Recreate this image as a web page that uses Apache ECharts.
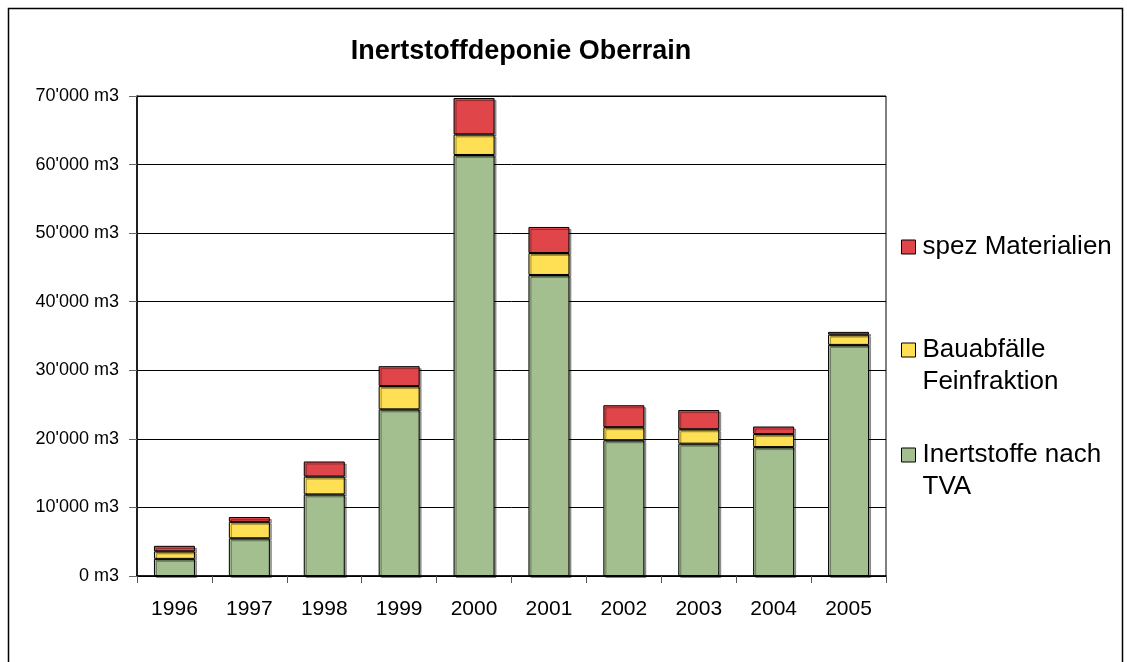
<!DOCTYPE html>
<html>
<head>
<meta charset="utf-8">
<script src="https://cdn.jsdelivr.net/npm/echarts@6/dist/echarts.min.js"></script>
<style>
  html, body { margin: 0; padding: 0; background: #fff; }
  #chart { width: 1127px; height: 662px; }
</style>
</head>
<body>
<div id="chart"></div>
<script>
const FONT = "'Liberation Sans', Arial, sans-serif";

const years = ["1996", "1997", "1998", "1999", "2000", "2001", "2002", "2003", "2004", "2005"];
const inertstoffe = [2500, 5500, 11900, 24300, 61400, 43900, 19800, 19300, 18800, 33700];
const bauabfaelle = [1100, 2400, 2600, 3400, 3000, 3200, 1900, 2100, 1900, 1500];
const spezMaterialien = [800, 700, 2200, 2900, 5300, 3800, 3200, 2800, 1100, 400];

const SERIES_NAMES = ["Inertstoffe nach TVA", "Bauabfälle Feinfraktion", "spez Materialien"];
// first line of a two-line entry sits beside the icon, so pad with a blank line above
const LEGEND_TEXT = {
  "spez Materialien": "spez Materialien",
  "Bauabfälle Feinfraktion": " \nBauabfälle\nFeinfraktion",
  "Inertstoffe nach TVA": " \nInertstoffe nach\nTVA",
};
const COLOR = {
  "Inertstoffe nach TVA": "#a3be8f",
  "Bauabfälle Feinfraktion": "#ffdf53",
  "spez Materialien": "#e0454a",
};

const chart = echarts.init(document.getElementById("chart"));

function yLabel(v) {
  if (v === 0) return "0 m3";
  return (v / 1000) + "'000 m3";
}

function legendFor(name, iconCenterY, twoLines) {
  const lh = 32;
  return {
    data: [name],
    left: 901,
    top: twoLines ? iconCenterY - lh * 1.5 : iconCenterY - lh / 2,
    padding: 0,
    selectedMode: false,
    itemWidth: 14,
    itemHeight: 14,
    icon: "rect",
    itemStyle: { borderColor: "#000", borderWidth: 1 },
    formatter: n => LEGEND_TEXT[n],
    textStyle: {
      fontFamily: FONT,
      fontSize: 26,
      color: "#000",
      lineHeight: lh,
      padding: [0, 0, 0, 2],
    },
  };
}

const data = [inertstoffe, bauabfaelle, spezMaterialien];

chart.setOption({
  animation: false,
  backgroundColor: "#fff",
  title: {
    text: "Inertstoffdeponie Oberrain",
    left: 516,
    textAlign: "center",
    top: 33,
    textStyle: { fontFamily: FONT, fontSize: 27, fontWeight: "bold", color: "#000" },
  },
  graphic: [{
    type: "rect",
    left: 6, top: 6,
    shape: { width: 1114, height: 700 },
    style: { fill: "none", stroke: "#000", lineWidth: 1.5 },
    silent: true,
  }],
  legend: [
    legendFor("spez Materialien", 247, false),
    legendFor("Bauabfälle Feinfraktion", 350, true),
    legendFor("Inertstoffe nach TVA", 455, true),
  ],
  grid: {
    left: 137, right: 241, top: 96, bottom: 86,
    show: true, borderColor: "#000", borderWidth: 1,
  },
  xAxis: {
    type: "category",
    data: years,
    axisLine: { lineStyle: { color: "#000", width: 1.5 } },
    axisTick: { show: true, length: 7, lineStyle: { color: "#555" } },
    axisLabel: { fontFamily: FONT, fontSize: 21, color: "#000", margin: 23 },
  },
  yAxis: {
    type: "value",
    min: 0, max: 70000, interval: 10000,
    axisLine: { show: true, lineStyle: { color: "#000", width: 1.5 } },
    axisTick: { show: true, length: 8, lineStyle: { color: "#666" } },
    axisLabel: { fontFamily: FONT, fontSize: 18, color: "#000", margin: 18, formatter: yLabel },
    splitLine: { lineStyle: { color: "#000", width: 1 } },
  },
  series: SERIES_NAMES.map((name, i) => ({
    name,
    type: "bar",
    stack: "total",
    barWidth: 41,
    data: data[i],
    itemStyle: {
      color: COLOR[name],
      borderColor: "#000",
      borderWidth: 1,
      shadowColor: "rgba(0,0,0,0.35)",
      shadowOffsetX: 2,
      shadowOffsetY: 2,
      shadowBlur: 0,
    },
  })),
});
</script>
</body>
</html>
